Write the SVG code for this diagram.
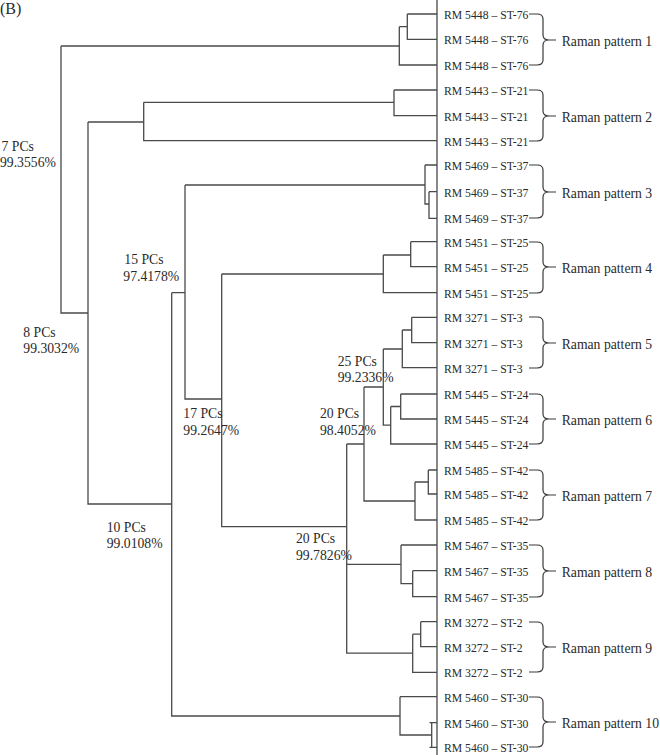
<svg xmlns="http://www.w3.org/2000/svg" width="660" height="755" viewBox="0 0 660 755">
<style>
.ln{stroke:#4a4a4a;stroke-width:1.3;fill:none}
.br{stroke:#3a3a3a;stroke-width:1.2;fill:none}
.t{font-family:"Liberation Serif","Times New Roman",serif;fill:#2a2a2a}
.leaf{font-size:11.7px}
.pat{font-size:13.7px}
.pc{font-size:13.7px}
</style>
<rect width="660" height="755" fill="#ffffff"/>
<text class="t" x="0" y="14" font-size="16">(B)</text>
<g id="connectors">
<path class="ln" d="M437,0 V755
M407.3,14 H437 M407.3,14 V39.3 H437 M399.3,26.7 H407.3 M399.3,26.7 V65 H437 M61,46 H399.3
M61,46 V313 H88
M88,122 V504 H171.7 M88,122 H143.7
M143.7,102.3 V140.7 H437 M143.7,102.3 H394
M394,90 H437 M394,90 V115.7 H437
M171.7,292.7 V716 H400 M171.7,292.7 H185
M185,185 V399 H221.7 M185,185 H425
M425,165 H437 M425,165 V204 H429 M429,191.7 H437 M429,191.7 V218.3 H437
M221.7,274 V526.7 H346.7 M221.7,274 H383.3
M383.3,255 V292.7 H437 M383.3,255 H410.7 M410.7,241.7 H437 M410.7,241.7 V266.7 H437
M346.7,444 V653.2 H412.7 M346.7,444 H364 M346.7,564.3 H401
M364,387 V501 H415 M364,387 H383.3
M383.3,349 V425.2 H390.7 M383.3,349 H402.3
M411.7,317.3 H437 M411.7,317.3 V342.7 H437 M402.3,330 H411.7 M402.3,330 V367.7 H437
M400.7,394 H437 M400.7,394 V419 H437 M390.7,406.5 H400.7 M390.7,406.5 V444 H437
M428.3,470 H437 M428.3,470 V494 H437 M415,482 H428.3 M415,482 V520 H437
M401,545 H437 M401,545 V583.7 H412.7 M412.7,570.7 H437 M412.7,570.7 V596.7 H437
M420.7,621.7 H437 M420.7,621.7 V646.7 H437 M412.7,634.2 H420.7 M412.7,634.2 V672.3 H437
M400,696.7 H437 M400,696.7 V735 H431.7 M431.7,722.7 V747.3 M429.5,722.7 H437 M429.5,747.3 H437"/>
</g>
<g id="node-labels" class="t pc">
<g id="n7"><text x="1.5" y="150.7">7 PCs</text><text x="0" y="167.3">99.3556%</text></g>
<g id="n8"><text x="23.3" y="336.7">8 PCs</text><text x="23.3" y="352.9">99.3032%</text></g>
<g id="n15"><text x="124.3" y="264.3">15 PCs</text><text x="123.3" y="281.2">97.4178%</text></g>
<g id="n25"><text x="337.7" y="365.5">25 PCs</text><text x="337.7" y="381.9">99.2336%</text></g>
<g id="n17"><text x="183.3" y="418.3">17 PCs</text><text x="183.3" y="434.9">99.2647%</text></g>
<g id="n20a"><text x="320" y="418.3">20 PCs</text><text x="320" y="434.9">98.4052%</text></g>
<g id="n10"><text x="106.7" y="531.7">10 PCs</text><text x="106.7" y="548.3">99.0108%</text></g>
<g id="n20b"><text x="296" y="543.3">20 PCs</text><text x="296" y="560">99.7826%</text></g>
</g>
<g id="leaves" class="t leaf">
<g id="p1"><text x="444" y="18.8">RM 5448 – ST-76</text><text x="444" y="44.1">RM 5448 – ST-76</text><text x="444" y="69.8">RM 5448 – ST-76</text></g>
<g id="p2"><text x="444" y="94.8">RM 5443 – ST-21</text><text x="444" y="120.5">RM 5443 – ST-21</text><text x="444" y="145.5">RM 5443 – ST-21</text></g>
<g id="p3"><text x="444" y="169.8">RM 5469 – ST-37</text><text x="444" y="196.5">RM 5469 – ST-37</text><text x="444" y="223.1">RM 5469 – ST-37</text></g>
<g id="p4"><text x="444" y="246.5">RM 5451 – ST-25</text><text x="444" y="271.5">RM 5451 – ST-25</text><text x="444" y="297.5">RM 5451 – ST-25</text></g>
<g id="p5"><text x="444" y="322.1">RM 3271 – ST-3</text><text x="444" y="347.5">RM 3271 – ST-3</text><text x="444" y="372.5">RM 3271 – ST-3</text></g>
<g id="p6"><text x="444" y="398.8">RM 5445 – ST-24</text><text x="444" y="423.8">RM 5445 – ST-24</text><text x="444" y="448.8">RM 5445 – ST-24</text></g>
<g id="p7"><text x="444" y="474.8">RM 5485 – ST-42</text><text x="444" y="498.8">RM 5485 – ST-42</text><text x="444" y="524.8">RM 5485 – ST-42</text></g>
<g id="p8"><text x="444" y="549.8">RM 5467 – ST-35</text><text x="444" y="575.5">RM 5467 – ST-35</text><text x="444" y="601.5">RM 5467 – ST-35</text></g>
<g id="p9"><text x="444" y="626.5">RM 3272 – ST-2</text><text x="444" y="651.5">RM 3272 – ST-2</text><text x="444" y="677.1">RM 3272 – ST-2</text></g>
<g id="p10"><text x="444" y="701.5">RM 5460 – ST-30</text><text x="444" y="727.5">RM 5460 – ST-30</text><text x="444" y="752.1">RM 5460 – ST-30</text></g>
</g>
<g id="patterns">
<g id="rp1"><path class="br" d="M529,14 H537 Q543,14 543,19 V35 Q543,40 549,40 H556 M549,40 Q543,40 543,45 V60 Q543,65 537,65 H529"/><text class="t pat" x="561.7" y="45.5">Raman pattern 1</text></g>
<g id="rp2"><path class="br" d="M529,90 H537 Q543,90 543,95 V111 Q543,116 549,116 H556 M549,116 Q543,116 543,121 V136 Q543,141 537,141 H529"/><text class="t pat" x="561.7" y="121.5">Raman pattern 2</text></g>
<g id="rp3"><path class="br" d="M529,165 H537 Q543,165 543,170 V187 Q543,192 549,192 H556 M549,192 Q543,192 543,197 V213 Q543,218 537,218 H529"/><text class="t pat" x="561.7" y="197.5">Raman pattern 3</text></g>
<g id="rp4"><path class="br" d="M529,242 H537 Q543,242 543,247 V262 Q543,267 549,267 H556 M549,267 Q543,267 543,272 V288 Q543,293 537,293 H529"/><text class="t pat" x="561.7" y="272.5">Raman pattern 4</text></g>
<g id="rp5"><path class="br" d="M529,317 H537 Q543,317 543,322 V338 Q543,343 549,343 H556 M549,343 Q543,343 543,348 V363 Q543,368 537,368 H529"/><text class="t pat" x="561.7" y="348.5">Raman pattern 5</text></g>
<g id="rp6"><path class="br" d="M529,394 H537 Q543,394 543,399 V414 Q543,419 549,419 H556 M549,419 Q543,419 543,424 V439 Q543,444 537,444 H529"/><text class="t pat" x="561.7" y="424.5">Raman pattern 6</text></g>
<g id="rp7"><path class="br" d="M529,470 H537 Q543,470 543,475 V490 Q543,495 549,495 H556 M549,495 Q543,495 543,500 V515 Q543,520 537,520 H529"/><text class="t pat" x="561.7" y="500.5">Raman pattern 7</text></g>
<g id="rp8"><path class="br" d="M529,545 H537 Q543,545 543,550 V566 Q543,571 549,571 H556 M549,571 Q543,571 543,576 V592 Q543,597 537,597 H529"/><text class="t pat" x="561.7" y="576.5">Raman pattern 8</text></g>
<g id="rp9"><path class="br" d="M529,622 H537 Q543,622 543,627 V642 Q543,647 549,647 H556 M549,647 Q543,647 543,652 V667 Q543,672 537,672 H529"/><text class="t pat" x="561.7" y="652.5">Raman pattern 9</text></g>
<g id="rp10"><path class="br" d="M529,697 H537 Q543,697 543,702 V717 Q543,722 549,722 H556 M549,722 Q543,722 543,727 V742 Q543,747 537,747 H529"/><text class="t pat" x="561.7" y="727.5">Raman pattern 10</text></g>
</g>
</svg>
